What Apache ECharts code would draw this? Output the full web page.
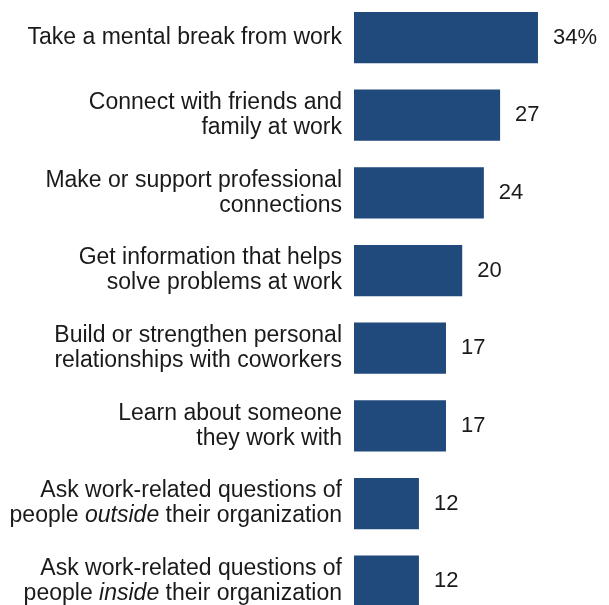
<!DOCTYPE html>
<html>
<head>
<meta charset="utf-8">
<script src="https://cdn.jsdelivr.net/npm/echarts@6/dist/echarts.min.js"></script>
<style>
html,body{margin:0;padding:0;background:#fff;overflow:hidden;width:609px;height:605px;}
#c{position:absolute;left:0;top:-20px;width:609px;height:660px;}
</style>
</head>
<body>
<div id="c"></div>
<script>
var categories = [
  "Take a mental break from work",
  "Connect with friends and\nfamily at work",
  "Make or support professional\nconnections",
  "Get information that helps\nsolve problems at work",
  "Build or strengthen personal\nrelationships with coworkers",
  "Learn about someone\nthey work with",
  "Ask work-related questions of\npeople {i|outside} their organization",
  "Ask work-related questions of\npeople {i|inside} their organization"
];
var values = [34, 27, 24, 20, 17, 17, 12, 12];

var chart = echarts.init(document.getElementById('c'), null, {renderer: 'canvas'});
var font = '"Liberation Sans", Arial, sans-serif';
chart.setOption({
  animation: false,
  grid: {left: 354, right: 11.5, top: 18.7, height: 621.3, containLabel: false},
  xAxis: {
    type: 'value', min: 0, max: 45,
    show: false
  },
  yAxis: {
    type: 'category', data: categories, inverse: true,
    axisLine: {show: false}, axisTick: {show: false}, splitLine: {show: false},
    axisLabel: {
      margin: 12, align: 'right',
      fontFamily: font, fontSize: 23, lineHeight: 25, color: '#1a1a1a',
      rich: {
        i: {fontStyle: 'italic', fontFamily: font, fontSize: 23, lineHeight: 25, color: '#1a1a1a'}
      }
    }
  },
  series: [{
    type: 'bar', data: values, barCategoryGap: '34%',
    itemStyle: {color: '#20497c'},
    label: {
      show: true, position: 'right', distance: 15,
      fontFamily: font, fontSize: 22, color: '#1a1a1a',
      formatter: function (p) { return p.dataIndex === 0 ? p.value + '%' : String(p.value); }
    }
  }]
});
</script>
</body>
</html>
